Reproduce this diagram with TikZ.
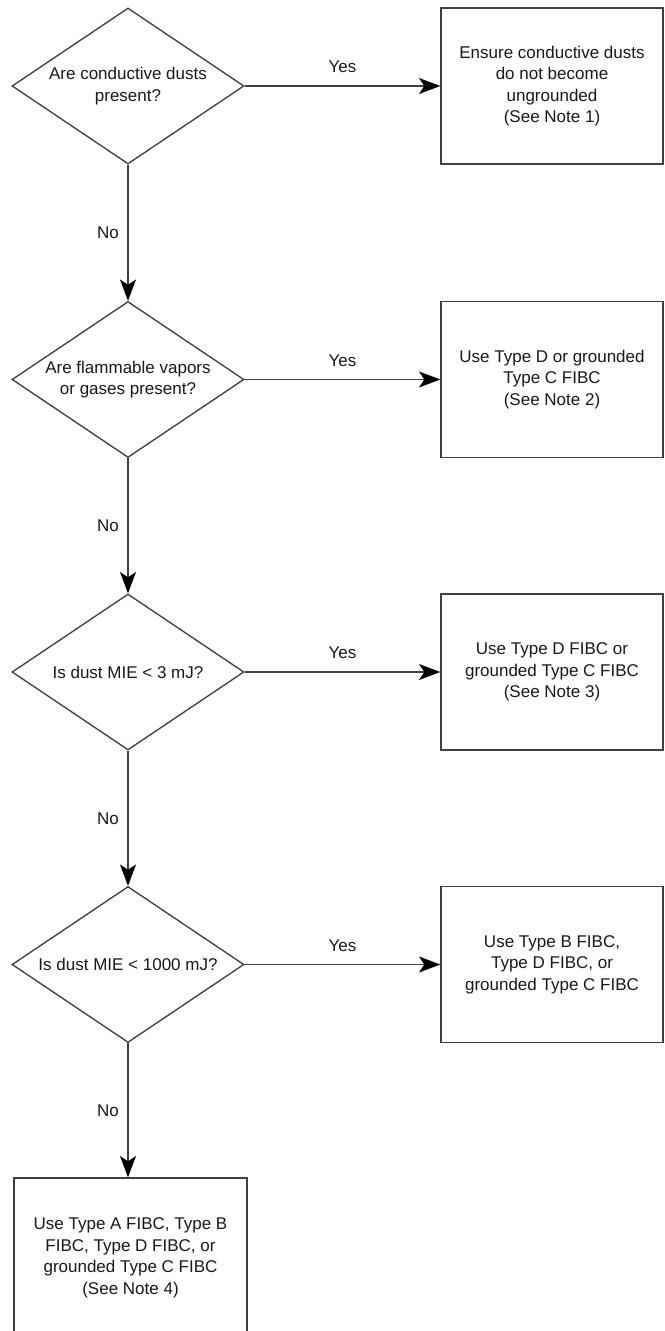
\documentclass[tikz,border=0pt]{standalone}
\usepackage{fontspec}
\setmainfont{Liberation Sans}
\usetikzlibrary{shapes.geometric,arrows.meta}
\begin{document}
\begin{tikzpicture}[x=0.75pt,y=-0.75pt,
  txt/.style={font=\fontsize{12.75}{16.2}\selectfont, text=black!90},
  dec/.style={diamond, shape aspect=1.487, draw=black!75, line width=1pt, minimum width=174pt, minimum height=117pt, inner sep=0pt, align=center, txt},
  act/.style={rectangle, draw=black!75, line width=1pt, minimum width=166.5pt, minimum height=117pt, inner sep=0pt, align=center, txt},
  flow/.style={draw=black!75, line width=1pt, -{Stealth[length=16pt,width=12pt,inset=4pt,color=black]}},
  lbl/.style={txt, inner sep=0pt}]
\clip (0,0) rectangle (664,1331);
\fill[white] (0,0) rectangle (664,1331);

\node[dec] (d1) at (128,86) {Are conductive dusts\\present?};
\node[dec] (d2) at (128,379.5) {Are flammable vapors\\or gases present?};
\node[dec] (d3) at (128,672) {Is dust MIE < 3 mJ?};
\node[dec] (d4) at (128,964.5) {Is dust MIE < 1000 mJ?};

\node[act] (b1) at (552,86) {Ensure conductive dusts\\do not become\\ungrounded\\(See Note 1)};
\node[act] (b2) at (552,379.5) {Use Type D or grounded\\Type C FIBC\\(See Note 2)};
\node[act] (b3) at (552,672) {Use Type D FIBC or\\grounded Type C FIBC\\(See Note 3)};
\node[act] (b4) at (552,964.5) {Use Type B FIBC,\\Type D FIBC, or\\grounded Type C FIBC};
\node[act, minimum width=174.75pt, minimum height=120pt] (b5) at (130.5,1258) {Use Type A FIBC, Type B\\FIBC, Type D FIBC, or\\grounded Type C FIBC\\(See Note 4)};

\draw[flow] (d1.east) -- node[lbl, yshift=14.25pt] {Yes} (d1.east -| b1.west);
\draw[flow] (d2.east) -- node[lbl, yshift=14.25pt] {Yes} (d2.east -| b2.west);
\draw[flow] (d3.east) -- node[lbl, yshift=14.25pt] {Yes} (d3.east -| b3.west);
\draw[flow] (d4.east) -- node[lbl, yshift=14.25pt] {Yes} (d4.east -| b4.west);

\draw[flow] (d1.south) -- node[lbl, xshift=-15pt] {No} (d2.north);
\draw[flow] (d2.south) -- node[lbl, xshift=-15pt] {No} (d3.north);
\draw[flow] (d3.south) -- node[lbl, xshift=-15pt] {No} (d4.north);
\draw[flow] (d4.south) -- node[lbl, xshift=-15pt] {No} (d4.south |- b5.north);
\end{tikzpicture}
\end{document}
